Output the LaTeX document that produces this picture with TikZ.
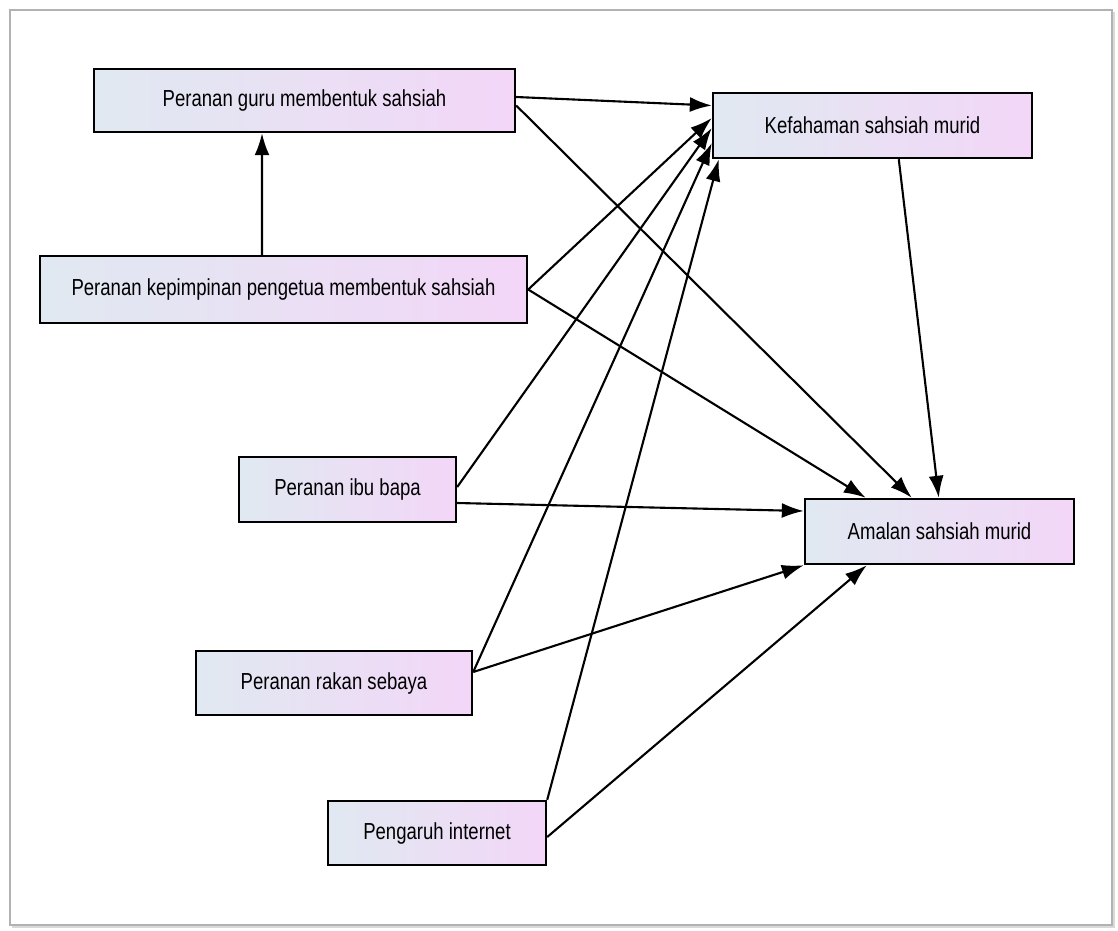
\documentclass[tikz,border=0pt]{standalone}
\usepackage{fontspec}
\setmainfont{Liberation Sans}[FakeStretch=0.8]
\usetikzlibrary{arrows.meta}
\definecolor{boxleft}{RGB}{224,233,241}
\definecolor{boxright}{RGB}{243,214,248}
\begin{document}
\begin{tikzpicture}[x=0.02cm, y=-0.02cm,
        kotak/.style={draw=black, line width=1.4pt, left color=boxleft, right color=boxright, inner sep=0pt, font=\fontsize{13.2}{15}\selectfont},
        anak/.style={-{Latex[length=12.5pt,width=8.5pt]}, line width=1.2pt}]
        \useasboundingbox (0, 0) rectangle (1118, 930);
        \draw[gray!60, line width=0.8pt] (10, 10) rectangle (1112, 925);
        \draw[gray!30, line width=1.5pt] (1114, 12) -- (1114, 927) -- (12, 927);

        \node[kotak, minimum width=8.42cm, minimum height=1.26cm] (guru) at (304.5, 100.5) {Peranan guru membentuk sahsiah};
        \node[kotak, minimum width=9.74cm, minimum height=1.34cm] (kep) at (283.5, 289.5) {Peranan kepimpinan pengetua membentuk sahsiah};
        \node[kotak, minimum width=6.38cm, minimum height=1.30cm] (kef) at (872.5, 125.5) {Kefahaman sahsiah murid};
        \node[kotak, minimum width=4.34cm, minimum height=1.30cm] (ibu) at (347.5, 489.5) {Peranan ibu bapa};
        \node[kotak, minimum width=5.52cm, minimum height=1.28cm] (rakan) at (334, 683) {Peranan rakan sebaya};
        \node[kotak, minimum width=4.36cm, minimum height=1.28cm] (inet) at (437, 833) {Pengaruh internet};
        \node[kotak, minimum width=5.38cm, minimum height=1.30cm] (amal) at (939.5, 531.5) {Amalan sahsiah murid};

        \draw[anak] ([xshift=-0.43cm]kep.north) -- ([xshift=-0.85cm]guru.south);
        \draw[anak] ([yshift=0.07cm]guru.east) -- ([yshift=0.40cm]kef.west);
        \draw[anak] ([yshift=-0.10cm]guru.east) -- ([xshift=2.16cm]amal.north west);
        \draw[anak] (kep.east) -- ([yshift=0.15cm]kef.west);
        \draw[anak] (kep.east) -- ([xshift=1.24cm]amal.north west);
        \draw[anak] ([yshift=0.05cm]ibu.east) -- ([yshift=-0.05cm]kef.west);
        \draw[anak] ([yshift=-0.27cm]ibu.east) -- ([yshift=0.41cm]amal.west);
        \draw[anak] ([yshift=0.22cm]rakan.east) -- ([yshift=-0.35cm]kef.west);
        \draw[anak] ([yshift=0.22cm]rakan.east) -- (amal.south west);
        \draw[anak] (inet.north east) -- ([xshift=0.14cm]kef.south west);
        \draw[anak] ([yshift=-0.08cm]inet.east) -- ([xshift=1.26cm]amal.south west);
        \draw[anak] ([xshift=3.74cm]kef.south west) -- ([xshift=2.70cm]amal.north west);
    \end{tikzpicture}
\end{document}
